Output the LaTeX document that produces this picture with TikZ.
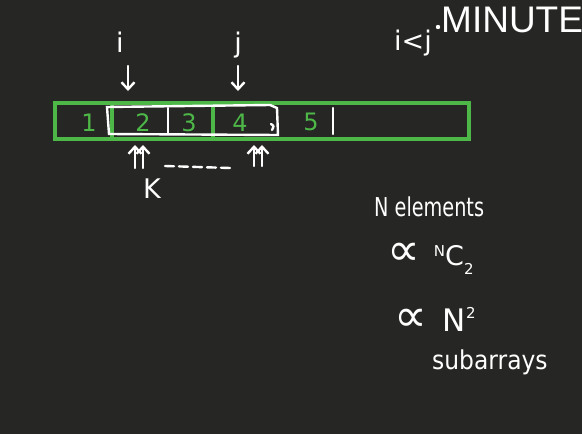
\documentclass[tikz,border=0pt]{standalone}
\usepackage{fontspec}
\usepackage{graphicx}
\setmainfont{DejaVu Sans}
\newfontfamily\minfont{Liberation Sans}
\usetikzlibrary{arrows.meta}
\definecolor{bg}{HTML}{262624}
\definecolor{gr}{HTML}{4DB848}
\begin{document}
\begin{tikzpicture}[x=1pt,y=-1pt,
  hand/.style={text=white,font=\fontsize{27}{29}\selectfont,inner sep=0pt},
  note/.style={text=white,font=\fontsize{26}{28}\selectfont,inner sep=0pt},
  num/.style={text=gr,font=\fontsize{24}{26}\selectfont,inner sep=0pt},
  gline/.style={draw=gr,line width=3.2pt},
  wline/.style={draw=white,line width=2.4pt,line cap=round},
  warrow/.style={draw=white,line width=2.4pt,line cap=round,-{Straight Barb[length=7pt,width=13pt]}}]
\fill[bg] (0,0) rectangle (582,434);
\useasboundingbox (0,0) rectangle (582,434);
% array
\draw[gline] (55,103) rectangle (469,139);
\draw[gline] (112,103) -- (112,139);
\draw[gline] (213,103) -- (213,139);
\draw[wline] (168,108) -- (168,134);
\draw[wline] (333,108) -- (333,134);
% subarray box
\draw[wline] (107,107) -- (270,105) -- (277,108) -- (278,135) -- (109,134) -- cycle;
\draw[wline] (271,124) .. controls (274,126) .. (272,130);
\node[num] (c1) at (89,123) {1};
\node[num] (c2) at (143,123) {2};
\node[num] (c3) at (189,123) {3};
\node[num] (c4) at (240,123) {4};
\node[num] (c5) at (311,122) {5};
% labels i and j
\node[hand] (i) at (120,42) {i};
\node[hand] (j) at (238,45) {j};
\coordinate (ia) at (128,66);
\coordinate (ib) at (128,91);
\coordinate (ja) at (238,66);
\coordinate (jb) at (238,91);
\draw[warrow] (ia) -- (ib);
\draw[warrow] (ja) -- (jb);
% k arrows
\coordinate (k1a) at (135,168); \coordinate (k1b) at (135,145);
\coordinate (k2a) at (143,168); \coordinate (k2b) at (143,145);
\coordinate (k3a) at (254,166); \coordinate (k3b) at (254,145);
\coordinate (k4a) at (262,166); \coordinate (k4b) at (262,145);
\draw[warrow] (k1a) -- (k1b);
\draw[warrow] (k2a) -- (k2b);
\draw[warrow] (k3a) -- (k3b);
\draw[warrow] (k4a) -- (k4b);
\coordinate (da) at (165,166);
\coordinate (db) at (230,168);
\draw[wline,dash pattern=on 9pt off 5pt] (da) -- (db);
\node[hand] (k) at (152,189) {K};
% i<j
\node[hand] (ilj) at (413,43) {i<j};
\node[text=white,font=\minfont\fontsize{37}{38}\selectfont,inner sep=0pt,anchor=west] (min) at (441,20) {MINUTE};
\fill[white] (438,27) circle (2.2pt);
% right notes
\node[note,anchor=west] (ne) at (374,207) {\scalebox{0.74}[1]{N elements}};
\node[hand,anchor=west] (nc) at (387,259) {\scalebox{1.7}{∝}\hspace{14pt}\raisebox{9pt}{\fontsize{15}{15}\selectfont N}C\raisebox{-9pt}{\fontsize{15}{15}\selectfont 2}};
\node[hand,anchor=west] (n2) at (394,319) {\scalebox{1.7}{∝}\hspace{16pt}\scalebox{1.15}{N}\raisebox{13pt}{\fontsize{15}{15}\selectfont 2}};
\node[note,anchor=west] (sa) at (432,362) {\scalebox{0.9}[1]{subarrays}};
\end{tikzpicture}
\end{document}
